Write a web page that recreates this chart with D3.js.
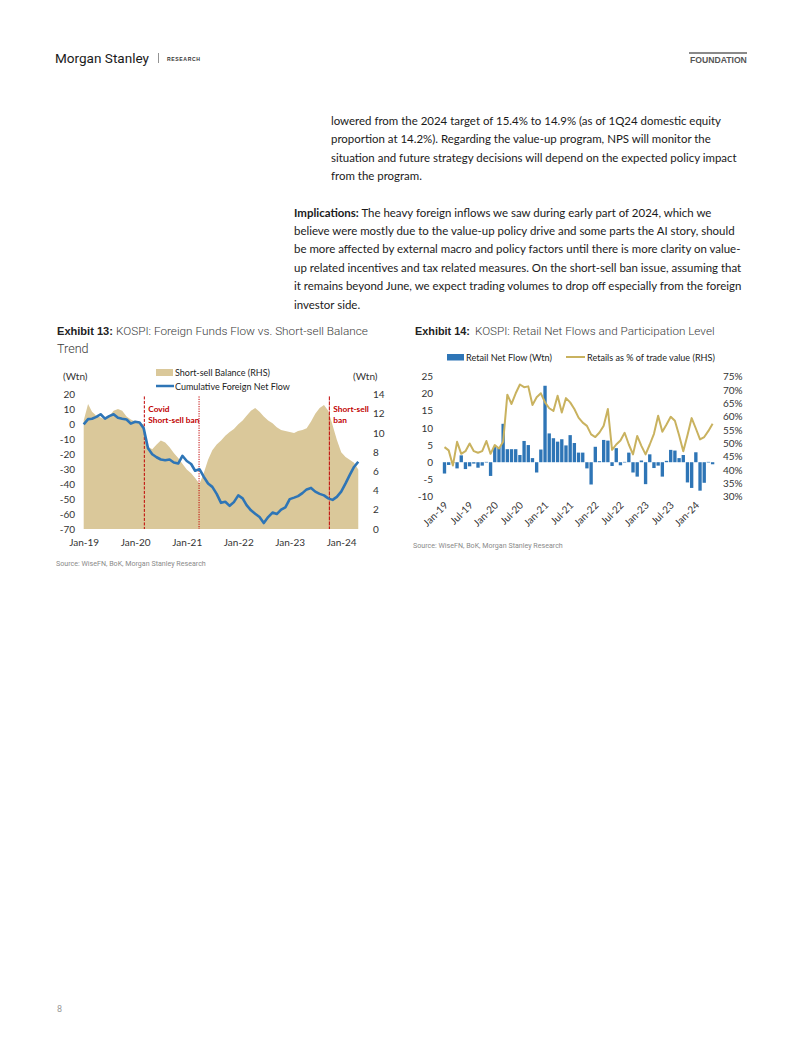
<!DOCTYPE html>
<html><head><meta charset="utf-8">
<script src="https://cdn.jsdelivr.net/npm/d3@7"></script>
<style>body{margin:0;background:#fff} svg{display:block}</style>
</head><body>
<svg id="page" width="802" height="1037"></svg>
<script>
// ---------------- DATA ----------------
// Exhibit 13 (monthly, Jan-19 .. May-24)
const ex13Start = new Date(2019, 0, 1);
const ex13End = new Date(2024, 5, 1);
const shortSellBalance = [11.3,13.0,12.2,11.8,11.6,11.4,11.7,12.3,12.5,12.3,
  11.7,11.4,11.2,11.0,10.9,8.6,8.3,8.8,9.2,9.0,
  8.5,7.9,7.4,6.8,6.2,5.8,5.3,4.7,5.8,7.2,
  8.2,8.8,9.2,9.7,10.1,10.4,10.9,11.3,11.8,12.3,
  12.6,12.2,11.7,11.3,11.0,10.6,10.3,10.2,10.1,10.0,
  10.2,10.3,10.5,11.2,12.0,12.6,12.9,12.3,10.8,9.3,
  8.0,7.5,7.2,6.9,6.2];
const cumForeignNetFlow = [0,3.5,3.8,5.0,6.8,3.8,5.5,6.8,4.4,3.8,
  3.3,0.5,1.8,1.2,-2.5,-16,-20,-22,-23.5,-24,
  -23.5,-25.5,-26.2,-21,-24.5,-26.5,-31,-30,-35,-39.6,
  -41.8,-46.5,-52.5,-51.8,-54.5,-52,-47.5,-49.5,-54,-57.5,
  -59.8,-62,-66,-62,-59,-60,-57,-55.5,-50,-49,
  -48,-46,-43.5,-42.5,-45,-46.5,-47.5,-49.5,-50.5,-48.5,
  -45,-39.5,-34,-28.5,-25];
const ex13LeftTicks = [20,10,0,-10,-20,-30,-40,-50,-60,-70];
const ex13RightTicks = [0,2,4,6,8,10,12,14];
const ex13XTicks = ["2019-01-01","2020-01-01","2021-01-01","2022-01-01","2023-01-01","2024-01-01"];
const ex13Events = [
  {date:"2020-03-06", dash:"3,1.5", label:["Covid","Short-sell ban"]},
  {date:"2021-03-29", dash:"1.2,1.2", label:null},
  {date:"2023-10-09", dash:"4,1", label:["Short-sell","ban"]}
];

// Exhibit 14 (monthly, Jan-19 .. May-24)
const retailNetFlow = [-3.3,-0.8,-0.2,-1.8,2.0,-2.0,-1.2,-0.4,-1.6,-1.0,0.1,-4.0,
  4.4,4.4,11.2,3.8,3.8,3.8,2.1,6.2,5.0,1.2,-3.0,3.7,
  22.3,8.4,7.0,6.0,6.7,4.9,7.9,5.6,2.8,2.8,-1.8,-6.5,
  4.5,0.3,6.5,6.3,-1.1,4.1,-0.9,0.1,2.8,-3.0,-4.2,0.5,
  -6.4,2.3,-1.7,-1.0,-4.2,0.4,3.6,3.4,1.2,2.1,-5.9,-7.5,
  2.9,-8.3,-6.0,0.1,-0.6];
const retailShare = [48.5,47.3,41.6,50.5,46.0,47.0,49.9,47.0,46.4,47.0,50.8,46.0,
  49.3,48.0,50.5,68.2,64.7,68.7,72.0,71.0,71.3,64.3,67.2,68.7,
  65.3,63.1,62.1,67.8,61.5,66.9,65.3,62.8,59.6,57.7,56.5,53.3,
  52.3,54.0,56.5,62.8,47.5,49.5,51.0,53.9,49.5,45.8,52.7,49.0,
  45.8,49.5,53.5,60.3,54.3,57.0,59.9,58.4,53.0,47.0,53.0,59.4,
  55.5,51.4,52.3,54.6,57.3];
const ex14LeftTicks = [25,20,15,10,5,0,-5,-10];
const ex14RightTicks = [75,70,65,60,55,50,45,40,35,30];
const ex14XLabels = ["Jan-19","Jul-19","Jan-20","Jul-20","Jan-21","Jul-21","Jan-22","Jul-22","Jan-23","Jul-23","Jan-24"];

// Text content
const para1 = [
  "lowered from the 2024 target of 15.4% to 14.9% (as of 1Q24 domestic equity",
  "proportion at 14.2%). Regarding the value-up program, NPS will monitor the",
  "situation and future strategy decisions will depend on the expected policy impact",
  "from the program."
];
const para2 = [
  ["Implications:", " The heavy foreign inflows we saw during early part of 2024, which we"],
  ["", "believe were mostly due to the value-up policy drive and some parts the AI story, should"],
  ["", "be more affected by external macro and policy factors until there is more clarity on value-"],
  ["", "up related incentives and tax related measures. On the short-sell ban issue, assuming that"],
  ["", "it remains beyond June, we expect trading volumes to drop off especially from the foreign"],
  ["", "investor side."]
];

// ---------------- HELPERS ----------------
const svg = d3.select("#page");
function fit(sel, w) {
  const n = sel.node();
  const l = n.getComputedTextLength();
  const fs = parseFloat(sel.attr("font-size"));
  if (l > 0) sel.attr("font-size", (fs * w / l).toFixed(3));
  return sel;
}
const BLUE = "#2e75b6", TAN = "#dac89a", GOLD = "#c9b25f", RED = "#c00000";
const parse = d3.timeParse("%Y-%m-%d");
const plain = d => String(d);

// ---------------- HEADER ----------------
fit(svg.append("text").attr("x", 55).attr("y", 63).attr("font-family", "Liberation Sans Narrow, Roboto, sans-serif")
  .attr("font-size", 15).attr("fill", "#1a1a1a").text("Morgan Stanley"), 94);
svg.append("line").attr("x1", 158.5).attr("x2", 158.5).attr("y1", 53).attr("y2", 63).attr("stroke", "#777").attr("stroke-width", 0.8);
fit(svg.append("text").attr("x", 167).attr("y", 61).attr("font-family", "Liberation Sans, sans-serif").attr("font-weight", "bold")
  .attr("font-size", 6).attr("letter-spacing", 0.6).attr("fill", "#333").text("RESEARCH"), 33);
svg.append("rect").attr("x", 689).attr("y", 52).attr("width", 58).attr("height", 2).attr("fill", "#8a8a8a");
fit(svg.append("text").attr("x", 690).attr("y", 63).attr("font-family", "Liberation Sans, sans-serif").attr("font-weight", "bold")
  .attr("font-size", 9).attr("fill", "#555").text("FOUNDATION"), 57);

// ---------------- BODY TEXT ----------------
const bodyFont = "Lato, 'Open Sans', sans-serif";
const probe = svg.append("text").attr("font-family", bodyFont).attr("font-size", 13).text(para2[1][1]);
const probeLen = probe.node().getComputedTextLength();
const bodyFs = 13 * 441 / probeLen;
probe.remove();
para1.forEach((t, i) => {
  svg.append("text").attr("x", 331).attr("y", 124.5 + i * 18.5).attr("font-family", bodyFont)
    .attr("font-size", bodyFs).attr("fill", "#1a1a1a").text(t);
});
para2.forEach((p, i) => {
  const t = svg.append("text").attr("x", 294).attr("y", 216.5 + i * 18.4).attr("font-family", bodyFont)
    .attr("font-size", bodyFs).attr("fill", "#1a1a1a");
  if (p[0]) t.append("tspan").attr("font-weight", "bold").text(p[0]);
  t.append("tspan").text(p[1]);
});

// ---------------- EXHIBIT TITLES ----------------
const titleFont = "Roboto, 'Liberation Sans', sans-serif";
fit(svg.append("text").attr("x", 57).attr("y", 334.5).attr("font-family", "Liberation Sans, Arial, sans-serif")
  .attr("font-weight", "bold").attr("font-size", 12).attr("fill", "#222").text("Exhibit 13:"), 56);
fit(svg.append("text").attr("x", 116).attr("y", 334.5).attr("font-family", titleFont).attr("font-weight", 300)
  .attr("font-size", 12.5).attr("fill", "#3a3a3a").text("KOSPI: Foreign Funds Flow vs. Short-sell Balance"), 252);
svg.append("text").attr("x", 57).attr("y", 352.5).attr("font-family", titleFont).attr("font-weight", 300)
  .attr("font-size", 12.6).attr("fill", "#3a3a3a").text("Trend");
fit(svg.append("text").attr("x", 415).attr("y", 334.5).attr("font-family", "Liberation Sans, Arial, sans-serif")
  .attr("font-weight", "bold").attr("font-size", 12).attr("fill", "#222").text("Exhibit 14:"), 55);
fit(svg.append("text").attr("x", 475).attr("y", 334.5).attr("font-family", titleFont).attr("font-weight", 300)
  .attr("font-size", 12.5).attr("fill", "#3a3a3a").text("KOSPI: Retail Net Flows and Participation Level"), 240);

fit(svg.append("text").attr("x", 56).attr("y", 566).attr("font-family", titleFont).attr("font-size", 7.5)
  .attr("fill", "#8a8a8a").text("Source: WiseFN, BoK, Morgan Stanley Research"), 150);
fit(svg.append("text").attr("x", 413).attr("y", 548).attr("font-family", titleFont).attr("font-size", 7.5)
  .attr("fill", "#8a8a8a").text("Source: WiseFN, BoK, Morgan Stanley Research"), 150);

svg.append("text").attr("x", 57).attr("y", 1012).attr("font-family", titleFont).attr("font-size", 9)
  .attr("fill", "#999").text("8");

// ---------------- EXHIBIT 13 ----------------
const chartFont = "Lato, 'Liberation Sans', sans-serif";
const months13 = d3.timeMonth.range(ex13Start, ex13End);
const d13 = months13.map((d, i) => ({date: d, ss: shortSellBalance[i], ff: cumForeignNetFlow[i]}));
const x13 = d3.scaleTime().domain([parse("2019-01-01"), parse("2024-01-01")]).range([83.7, 341.2]);
const yL13 = d3.scaleLinear().domain([-70, 20]).range([529, 394.5]);
const yR13 = d3.scaleLinear().domain([0, 14]).range([529, 394.5]);
const g13 = svg.append("g");

g13.append("path").datum(d13).attr("fill", TAN)
  .attr("d", d3.area().x(d => x13(d.date)).y0(yR13(0)).y1(d => yR13(d.ss)));

ex13Events.forEach(ev => {
  const xx = x13(parse(ev.date));
  g13.append("line").attr("x1", xx).attr("x2", xx).attr("y1", yR13(13.8)).attr("y2", yR13(0))
    .attr("stroke", RED).attr("stroke-width", 1).attr("stroke-dasharray", ev.dash);
  if (ev.label) {
    ev.label.forEach((t, k) => {
      g13.append("text").attr("x", xx + 4).attr("y", 412 + k * 10.5).attr("font-family", chartFont)
        .attr("font-weight", "bold").attr("font-size", 8.3).attr("fill", RED).text(t);
    });
  }
});

g13.append("path").datum(d13).attr("fill", "none").attr("stroke", BLUE).attr("stroke-width", 2.6)
  .attr("stroke-linejoin", "round")
  .attr("d", d3.line().x(d => x13(d.date)).y(d => yL13(d.ff)));

const axL13 = g13.append("g").attr("transform", "translate(77,0)")
  .call(d3.axisLeft(yL13).tickValues(ex13LeftTicks).tickFormat(plain).tickSize(0).tickPadding(2));
const axR13 = g13.append("g").attr("transform", "translate(370,0)")
  .call(d3.axisRight(yR13).tickValues(ex13RightTicks).tickFormat(plain).tickSize(0).tickPadding(3));
const axB13 = g13.append("g").attr("transform", "translate(0,529)")
  .call(d3.axisBottom(x13).tickValues(ex13XTicks.map(parse)).tickFormat(d3.timeFormat("%b-%y")).tickSize(0).tickPadding(10));
[axL13, axR13, axB13].forEach(a => {
  a.select(".domain").remove();
  a.selectAll("text").attr("font-family", chartFont).attr("font-size", 10).attr("fill", "#333");
});

g13.append("text").attr("x", 63).attr("y", 379.5).attr("font-family", chartFont).attr("font-size", 10).attr("fill", "#333").text("(Wtn)");
g13.append("text").attr("x", 353).attr("y", 379.5).attr("font-family", chartFont).attr("font-size", 10).attr("fill", "#333").text("(Wtn)");
g13.append("rect").attr("x", 156).attr("y", 369).attr("width", 17).attr("height", 7).attr("fill", TAN);
fit(g13.append("text").attr("x", 175).attr("y", 375.5).attr("font-family", chartFont).attr("font-size", 9.5)
  .attr("fill", "#222").text("Short-sell Balance (RHS)"), 95);
g13.append("line").attr("x1", 156).attr("x2", 174).attr("y1", 386).attr("y2", 386).attr("stroke", BLUE).attr("stroke-width", 2.5);
fit(g13.append("text").attr("x", 175).attr("y", 389.5).attr("font-family", chartFont).attr("font-size", 9.5)
  .attr("fill", "#222").text("Cumulative Foreign Net Flow"), 115);

// ---------------- EXHIBIT 14 ----------------
const months14 = d3.timeMonth.range(ex13Start, ex13End);
const d14 = months14.map((d, i) => ({date: d, flow: retailNetFlow[i], share: retailShare[i]}));
const fmt14 = d3.timeFormat("%b-%y");
const xb14 = d3.scaleBand().domain(months14).range([442.4, 714.7]).paddingInner(0.2).paddingOuter(0.1);
const yL14 = d3.scaleLinear().domain([-10, 25]).range([496.5, 376.5]);
const yR14 = d3.scaleLinear().domain([30, 75]).range([496.5, 376.5]);
const g14 = svg.append("g");

g14.selectAll("rect.bar").data(d14).join("rect").attr("class", "bar")
  .attr("x", d => xb14(d.date)).attr("width", xb14.bandwidth())
  .attr("y", d => Math.min(yL14(d.flow), yL14(0)))
  .attr("height", d => Math.max(0.6, Math.abs(yL14(d.flow) - yL14(0))))
  .attr("fill", BLUE);

g14.append("path").datum(d14).attr("fill", "none").attr("stroke", GOLD).attr("stroke-width", 2)
  .attr("stroke-linejoin", "round")
  .attr("d", d3.line().x(d => xb14(d.date) + xb14.bandwidth() / 2).y(d => yR14(d.share)));

const axL14 = g14.append("g").attr("transform", "translate(436,0)")
  .call(d3.axisLeft(yL14).tickValues(ex14LeftTicks).tickFormat(plain).tickSize(0).tickPadding(3));
const axR14 = g14.append("g").attr("transform", "translate(720,0)")
  .call(d3.axisRight(yR14).tickValues(ex14RightTicks).tickFormat(d => d + "%").tickSize(0).tickPadding(3));
[axL14, axR14].forEach(a => {
  a.select(".domain").remove();
  a.selectAll("text").attr("font-family", chartFont).attr("font-size", 10).attr("fill", "#333");
});

const labelMonths = months14.filter(d => ex14XLabels.includes(fmt14(d)));
g14.selectAll("text.xl").data(labelMonths).join("text").attr("class", "xl")
  .attr("text-anchor", "end").attr("font-family", chartFont).attr("font-size", 10).attr("fill", "#333")
  .attr("transform", d => `translate(${xb14(d) + xb14.bandwidth() / 2 + 4},${506}) rotate(-45)`)
  .text(d => fmt14(d));

g14.append("rect").attr("x", 447).attr("y", 354).attr("width", 17).attr("height", 6.5).attr("fill", BLUE);
fit(g14.append("text").attr("x", 466).attr("y", 360.5).attr("font-family", chartFont).attr("font-size", 9.5)
  .attr("fill", "#222").text("Retail Net Flow (Wtn)"), 86);
g14.append("line").attr("x1", 566).attr("x2", 585).attr("y1", 357).attr("y2", 357).attr("stroke", GOLD).attr("stroke-width", 2);
fit(g14.append("text").attr("x", 587).attr("y", 360.5).attr("font-family", chartFont).attr("font-size", 9.5)
  .attr("fill", "#222").text("Retails as % of trade value (RHS)"), 128);
</script>
</body></html>
